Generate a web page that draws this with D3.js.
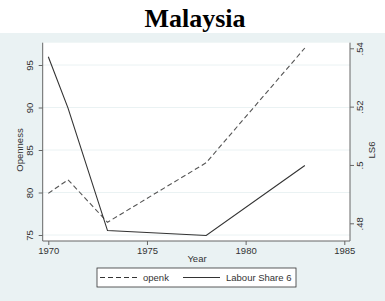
<!DOCTYPE html>
<html>
<head>
<meta charset="utf-8">
<script src="https://cdn.jsdelivr.net/npm/d3@7"></script>
<style>
  body { margin: 0; background: #fff; }
  svg { display: block; }
</style>
</head>
<body>
<svg id="chart"></svg>
<script>
// data
const years = [1970, 1971, 1973, 1978, 1983];
const openk = [79.9, 81.5, 76.5, 83.5, 97.0];
const labourShare6 = [0.5371, 0.5195, 0.4775, 0.4758, 0.4998];
const xTicks = [1970, 1975, 1980, 1985];
const leftTicks = [75, 80, 85, 90, 95];
const rightTicks = [0.48, 0.50, 0.52, 0.54];
const rightTickLabels = [".48", ".5", ".52", ".54"];

const width = 385, height = 301;
const plot = { left: 42.7, right: 350, top: 42.7, bottom: 241 };

const svg = d3.select("#chart").attr("width", width).attr("height", height);

// backgrounds
svg.append("rect").attr("width", width).attr("height", height).attr("fill", "#fff");
svg.append("rect").attr("x", 0).attr("y", 33).attr("width", width).attr("height", height - 33)
    .attr("fill", "#eaf2f3");
svg.append("rect").attr("x", plot.left).attr("y", plot.top)
    .attr("width", plot.right - plot.left).attr("height", plot.bottom - plot.top)
    .attr("fill", "#fff");

svg.append("text")
    .attr("x", 195).attr("y", 27)
    .attr("text-anchor", "middle")
    .attr("font-family", "Liberation Serif, Times New Roman, serif")
    .attr("font-weight", "bold")
    .attr("font-size", 26)
    .text("Malaysia");

const x = d3.scaleLinear().domain([1970, 1985]).range([48.3, 344.3]);
const yl = d3.scaleLinear().domain([75, 95]).range([235, 65]);
const yr = d3.scaleLinear().domain([0.48, 0.54]).range([223.3, 48.3]);

// grid
svg.append("g").selectAll("line").data(leftTicks).join("line")
    .attr("x1", plot.left).attr("x2", plot.right)
    .attr("y1", d => yl(d)).attr("y2", d => yl(d))
    .attr("stroke", "#eaf2f3").attr("stroke-width", 1);

const font = "Liberation Sans, Arial, sans-serif";
const fs = 9.5;
const textCol = "#333";
const axisCol = "#666";

// x axis
const xg = svg.append("g").attr("transform", `translate(0,${plot.bottom})`)
    .call(d3.axisBottom(x).tickValues(xTicks).tickFormat(d3.format("d")).tickSize(4).tickSizeOuter(0));
xg.select(".domain").attr("d", `M${plot.left},0H${plot.right}`).attr("stroke", axisCol);
xg.selectAll(".tick line").attr("stroke", axisCol);
xg.selectAll(".tick text").attr("font-family", font).attr("font-size", fs).attr("fill", textCol).attr("dy", "0.65em");

// left axis
const lg = svg.append("g").attr("transform", `translate(${plot.left},0)`)
    .call(d3.axisLeft(yl).tickValues(leftTicks).tickSize(4).tickSizeOuter(0));
lg.select(".domain").attr("d", `M0,${plot.top}V${plot.bottom}`).attr("stroke", axisCol);
lg.selectAll(".tick line").attr("stroke", axisCol);
lg.selectAll(".tick text").attr("font-family", font).attr("font-size", fs).attr("fill", textCol)
    .attr("x", null).attr("dy", null)
    .attr("text-anchor", "middle")
    .attr("transform", "translate(-9.5,0) rotate(-90)")
    .attr("y", 0);

// right axis
const rg = svg.append("g").attr("transform", `translate(${plot.right},0)`)
    .call(d3.axisRight(yr).tickValues(rightTicks).tickFormat((d, i) => rightTickLabels[i]).tickSize(4).tickSizeOuter(0));
rg.select(".domain").attr("d", `M0,${plot.top}V${plot.bottom}`).attr("stroke", axisCol);
rg.selectAll(".tick line").attr("stroke", axisCol);
rg.selectAll(".tick text").attr("font-family", font).attr("font-size", fs).attr("fill", textCol)
    .attr("x", null).attr("dy", null)
    .attr("text-anchor", "middle")
    .attr("transform", "translate(13,0) rotate(-90)")
    .attr("y", 0);

// axis titles
svg.append("text").attr("transform", "translate(23,150) rotate(-90)")
    .attr("text-anchor", "middle").attr("font-family", font).attr("font-size", fs).attr("fill", textCol)
    .text("Openness");
svg.append("text").attr("transform", "translate(375,150) rotate(-90)")
    .attr("text-anchor", "middle").attr("font-family", font).attr("font-size", fs).attr("fill", textCol)
    .text("LS6");
svg.append("text").attr("x", 197).attr("y", 262)
    .attr("text-anchor", "middle").attr("font-family", font).attr("font-size", fs).attr("fill", textCol)
    .text("Year");

// lines
const lineL = d3.line().x((d, i) => x(years[i])).y(d => yl(d));
const lineR = d3.line().x((d, i) => x(years[i])).y(d => yr(d));
svg.append("path").datum(openk).attr("d", lineL)
    .attr("fill", "none").attr("stroke", "#555").attr("stroke-width", 1.1)
    .attr("stroke-dasharray", "5,3");
svg.append("path").datum(labourShare6).attr("d", lineR)
    .attr("fill", "none").attr("stroke", "#333").attr("stroke-width", 1.1);

// legend
const lgd = svg.append("g");
lgd.append("rect").attr("x", 97).attr("y", 268).attr("width", 199).attr("height", 19)
    .attr("fill", "#fff").attr("stroke", "#333").attr("stroke-width", 0.8);
lgd.append("line").attr("x1", 100).attr("x2", 137).attr("y1", 277.5).attr("y2", 277.5)
    .attr("stroke", "#333").attr("stroke-width", 1).attr("stroke-dasharray", "5,3");
lgd.append("text").attr("x", 143).attr("y", 281).attr("font-family", font).attr("font-size", fs)
    .attr("fill", textCol).text("openk");
lgd.append("line").attr("x1", 183).attr("x2", 220).attr("y1", 277.5).attr("y2", 277.5)
    .attr("stroke", "#333").attr("stroke-width", 1);
lgd.append("text").attr("x", 226).attr("y", 281).attr("font-family", font).attr("font-size", fs)
    .attr("fill", textCol).text("Labour Share 6");
</script>
</body>
</html>
